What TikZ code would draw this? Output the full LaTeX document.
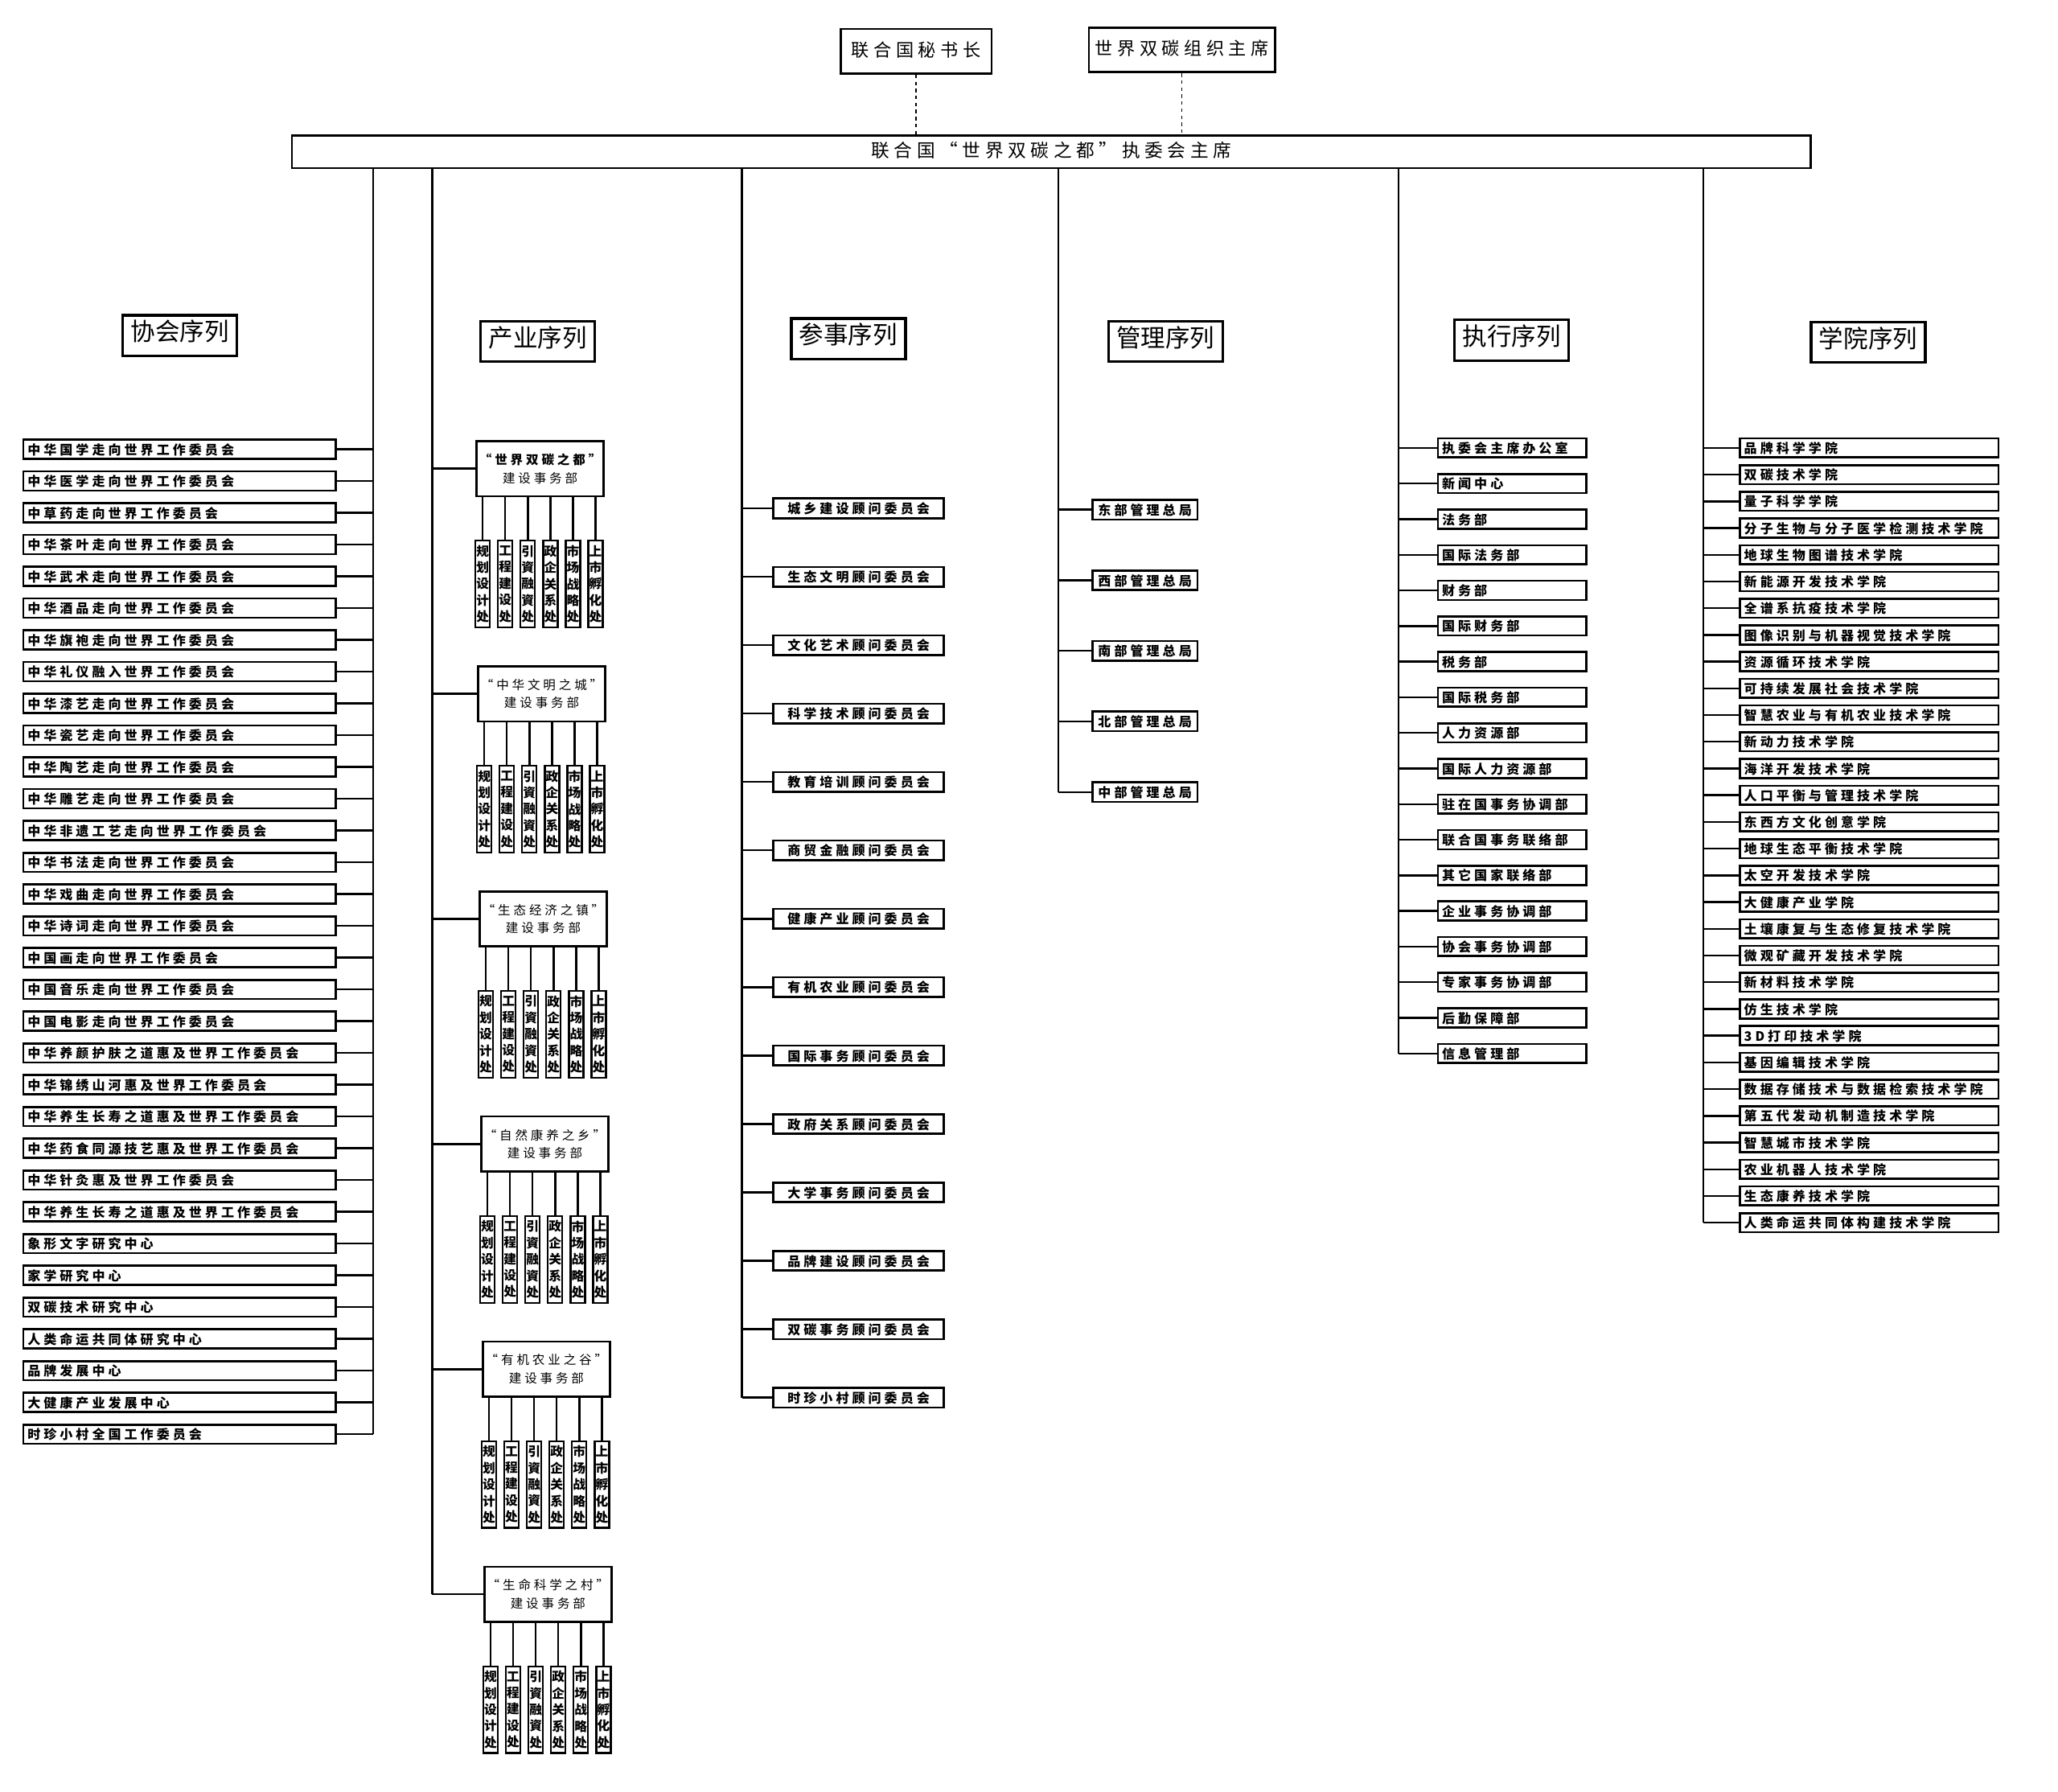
\documentclass[tikz,border=0pt]{standalone}
\usepackage{fontspec}
\newfontfamily\cjk[LetterSpace=25]{Noto Sans CJK SC}
\newfontfamily\cjkplain{Noto Sans CJK SC}
\begin{document}
\begin{tikzpicture}[x=0.0329cm, y=-0.0329cm,
  box/.style={draw, line width=1.5pt, inner sep=0pt, text height=0.88em, text depth=0.12em},
  leftbox/.style={box, anchor=west, inner xsep=3pt, align=left, minimum height=13.6pt, font=\cjk\bfseries\fontsize{9.2}{10}\selectfont},
  midbox/.style={box, anchor=west, minimum height=14pt, font=\cjk\bfseries\fontsize{9.2}{10}\selectfont},
  topbox/.style={box, line width=1.6pt, minimum height=31.8pt, font=\cjk\fontsize{12.7}{14}\selectfont},
  hdbox/.style={box, line width=1.8pt, minimum width=81.4pt, minimum height=29pt, font=\cjkplain\fontsize{17.5}{17.5}\selectfont},
  cybox/.style={draw, line width=1.5pt, anchor=north west, minimum width=90.7pt, minimum height=39.3pt, inner sep=0pt, align=center, font=\cjk\fontsize{8.9}{13}\selectfont},
  chubox/.style={draw, line width=1.3pt, anchor=north, minimum width=10.3pt, minimum height=61.7pt, inner sep=0pt, align=center, font=\cjkplain\bfseries\fontsize{9}{11.7}\selectfont},
  link/.style={line width=1.4pt},
  dashline/.style={line width=0.8pt, dash pattern=on 2.5pt off 2.5pt}]

% Fixing the frame
\useasboundingbox (0,0) rectangle (1567,1364);

% Drawing the top boxes
\node [topbox, minimum width=107.6pt] (mishu) at (697.5,39) {联合国秘书长};
\node [topbox, minimum width=132.8pt] (zuzhi) at (900,38) {世界双碳组织主席};
\node [box, line width=1.6pt, minimum width=1082.4pt, minimum height=23.4pt, font=\cjk\fontsize{13}{14}\selectfont] (chair) at (800.5,115.5) {联合国“世界双碳之都”执委会主席};
\draw [dashline] (mishu.south) -- (mishu.south |- chair.north);
\draw [dashline] (zuzhi.south) -- (zuzhi.south |- chair.north);

% Marking the bus lines
\coordinate (xhbus) at (284,128);
\coordinate (cybus) at (329,128);
\coordinate (csbus) at (565,128);
\coordinate (glbus) at (806,128);
\coordinate (zxbus) at (1065,128);
\coordinate (xybus) at (1297,128);

% Drawing the headers
\node [hdbox] (xhhead) at (137,255.5) {协会序列};
\node [hdbox] (cyhead) at (409.5,260) {产业序列};
\node [hdbox] (cshead) at (646,258) {参事序列};
\node [hdbox] (glhead) at (887.5,260) {管理序列};
\node [hdbox] (zxhead) at (1151,259) {执行序列};
\node [hdbox] (xyhead) at (1422.5,260.5) {学院序列};

% Drawing the xiehui column
\foreach \t [count=\i] in {中华国学走向世界工作委员会, 中华医学走向世界工作委员会, 中草药走向世界工作委员会, 中华茶叶走向世界工作委员会, 中华武术走向世界工作委员会, 中华酒品走向世界工作委员会, 中华旗袍走向世界工作委员会, 中华礼仪融入世界工作委员会, 中华漆艺走向世界工作委员会, 中华瓷艺走向世界工作委员会, 中华陶艺走向世界工作委员会, 中华雕艺走向世界工作委员会, 中华非遗工艺走向世界工作委员会, 中华书法走向世界工作委员会, 中华戏曲走向世界工作委员会, 中华诗词走向世界工作委员会, 中国画走向世界工作委员会, 中国音乐走向世界工作委员会, 中国电影走向世界工作委员会, 中华养颜护肤之道惠及世界工作委员会, 中华锦绣山河惠及世界工作委员会, 中华养生长寿之道惠及世界工作委员会, 中华药食同源技艺惠及世界工作委员会, 中华针灸惠及世界工作委员会, 中华养生长寿之道惠及世界工作委员会, 象形文字研究中心, 家学研究中心, 双碳技术研究中心, 人类命运共同体研究中心, 品牌发展中心, 大健康产业发展中心, 时珍小村全国工作委员会}
{
  \node [leftbox, text width=216.6pt] (xh\i) at (17,{342+(\i-1)*24.19}) {\t};
  \draw [link] (xh\i.east) -- (xh\i.east -| xhbus);
}
\draw [link] (xhbus) -- (xhbus |- xh32.east);

% Drawing the chanye column
\foreach \u [count=\k from 0] in {世界双碳之都, 中华文明之城, 生态经济之镇, 自然康养之乡, 有机农业之谷, 生命科学之村}
{
  \pgfmathsetmacro\yt{335+171.4*\k}
  \pgfmathsetmacro\xl{362+1.2*\k}
  \node [cybox] (cy\k) at (\xl,\yt) {\ifnum\k=0 {\bfseries “\u”}\else “\u”\fi\\建设事务部};
  \draw [link] (cy\k.west -| cybus) -- (cy\k.west);
  \foreach \c [count=\j from 0] in {规\\划\\设\\计\\处, 工\\程\\建\\设\\处, 引\\資\\融\\資\\处, 政\\企\\关\\系\\处, 市\\场\\战\\略\\处, 上\\市\\孵\\化\\处}
  {
    \node [chubox] (cyc\k\j) at ({\xl+5.5+17.2*\j},{\yt+76}) {\c};
    \draw [link] (cy\k.south -| cyc\k\j.north) -- (cyc\k\j.north);
  }
}
\draw [link] (cybus) -- (cybus |- cy5.west);

% Drawing the canshi column
\foreach \t [count=\i] in {城乡建设顾问委员会, 生态文明顾问委员会, 文化艺术顾问委员会, 科学技术顾问委员会, 教育培训顾问委员会, 商贸金融顾问委员会, 健康产业顾问委员会, 有机农业顾问委员会, 国际事务顾问委员会, 政府关系顾问委员会, 大学事务顾问委员会, 品牌建设顾问委员会, 双碳事务顾问委员会, 时珍小村顾问委员会}
{
  \node [midbox, minimum width=121.6pt] (cs\i) at (588,{387+(\i-1)*52.08}) {\t};
  \draw [link] (cs\i.west -| csbus) -- (cs\i.west);
}
\draw [link] (csbus) -- (csbus |- cs14.west);

% Drawing the guanli column
\foreach \t [count=\i] in {东部管理总局, 西部管理总局, 南部管理总局, 北部管理总局, 中部管理总局}
{
  \node [midbox, minimum width=74.8pt] (gl\i) at (831,{388+(\i-1)*53.75}) {\t};
  \draw [link] (gl\i.west -| glbus) -- (gl\i.west);
}
\draw [link] (glbus) -- (glbus |- gl5.west);

% Drawing the zhixing column
\foreach \t [count=\i] in {执委会主席办公室, 新闻中心, 法务部, 国际法务部, 财务部, 国际财务部, 税务部, 国际税务部, 人力资源部, 国际人力资源部, 驻在国事务协调部, 联合国事务联络部, 其它国家联络部, 企业事务协调部, 协会事务协调部, 专家事务协调部, 后勤保障部, 信息管理部}
{
  \node [leftbox, text width=99.7pt] (zx\i) at (1094,{341+(\i-1)*27.12}) {\t};
  \draw [link] (zx\i.west -| zxbus) -- (zx\i.west);
}
\draw [link] (zxbus) -- (zxbus |- zx18.west);

% Drawing the xueyuan column
\foreach \t [count=\i] in {品牌科学学院, 双碳技术学院, 量子科学学院, 分子生物与分子医学检测技术学院, 地球生物图谱技术学院, 新能源开发技术学院, 全谱系抗疫技术学院, 图像识别与机器视觉技术学院, 资源循环技术学院, 可持续发展社会技术学院, 智慧农业与有机农业技术学院, 新动力技术学院, 海洋开发技术学院, 人口平衡与管理技术学院, 东西方文化创意学院, 地球生态平衡技术学院, 太空开发技术学院, 大健康产业学院, 土壤康复与生态修复技术学院, 微观矿藏开发技术学院, 新材料技术学院, 仿生技术学院, 3D打印技术学院, 基因编辑技术学院, 数据存储技术与数据检索技术学院, 第五代发动机制造技术学院, 智慧城市技术学院, 农业机器人技术学院, 生态康养技术学院, 人类命运共同体构建技术学院}
{
  \node [leftbox, text width=178.3pt] (xy\i) at (1324,{341+(\i-1)*20.34}) {\t};
  \draw [link] (xy\i.west -| xybus) -- (xy\i.west);
}
\draw [link] (xybus) -- (xybus |- xy30.west);
\end{tikzpicture}
\end{document}
